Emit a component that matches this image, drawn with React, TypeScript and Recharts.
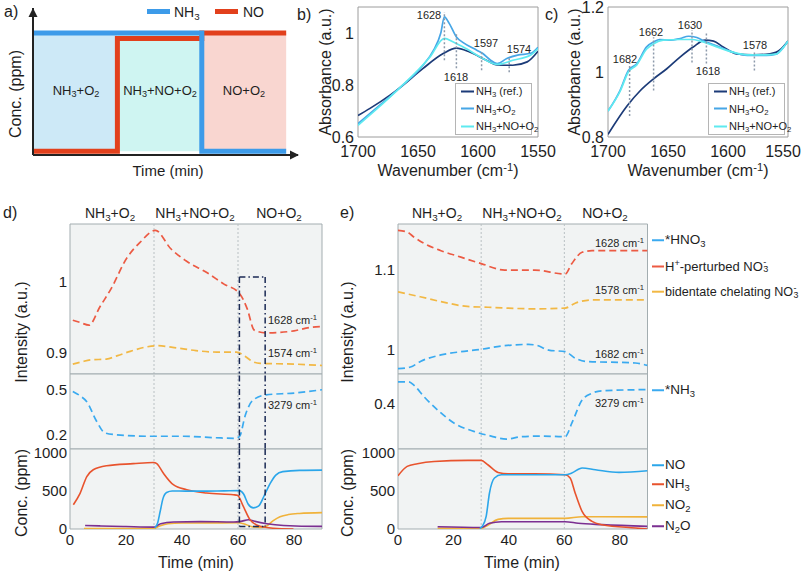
import React from 'react';
import { LineChart, Line, XAxis, YAxis, ReferenceLine, ReferenceArea, ReferenceDot, CartesianGrid } from 'recharts';

const FONT = '"Liberation Sans", Arial, Helvetica, sans-serif';
const INK = '#1e1e1e';

type P = [number, number];
const pts = (a: P[]) => a.map(([x, y]) => ({ x, y }));

// ---------- panel a ----------
const aPhaseEdges = [0, 1, 2, 3];
const aPhaseFills = ['#cde9f7', '#cff5f2', '#f9d6d0'];
const aNH3: P[] = [[0, 1], [2, 1], [2, 0.03], [3, 0.03]];
const aNO: P[] = [[0, 0.03], [1, 0.03], [1, 0.955], [2, 0.955], [2, 1], [3, 1]];
const aXMax = 3.14;
const aYMax = 1.205;

// ---------- panels b, c ----------
const wnTicks = [1700, 1650, 1600, 1550];
const bTicksY = [0.6, 0.8, 1];
const cTicksY = [0.8, 1, 1.2];
const bRef: P[] = [[1700, 0.683], [1690, 0.71], [1673, 0.762], [1665, 0.79], [1646, 0.863], [1629, 0.921], [1618, 0.942], [1607, 0.927], [1593, 0.895], [1584, 0.877], [1571, 0.876], [1559, 0.889], [1550, 0.93]];
const bO2: P[] = [[1700, 0.651], [1685, 0.71], [1665, 0.79], [1646, 0.875], [1637, 0.934], [1631, 1.0], [1628, 1.062], [1624, 1.037], [1618, 0.985], [1612, 0.962], [1601, 0.934], [1596, 0.921], [1590, 0.897], [1584, 0.882], [1576, 0.902], [1567, 0.915], [1556, 0.922], [1550, 0.945]];
const bNO: P[] = [[1700, 0.645], [1685, 0.705], [1665, 0.79], [1640, 0.908], [1628, 0.979], [1621, 0.966], [1610, 0.94], [1596, 0.902], [1584, 0.879], [1571, 0.895], [1556, 0.915], [1550, 0.94]];
const bMarks = [{ w: 1628, y1: 0.895, y2: 1.081 }, { w: 1618, y1: 0.864, y2: 1.003 }, { w: 1597, y1: 0.857, y2: 0.934 }, { w: 1574, y1: 0.849, y2: 0.903 }];
const cRef: P[] = [[1700, 0.808], [1684, 0.896], [1673, 0.943], [1662, 0.979], [1651, 1.01], [1640, 1.046], [1629, 1.077], [1619, 1.098], [1612, 1.095], [1604, 1.077], [1593, 1.056], [1579, 1.053], [1565, 1.056], [1556, 1.07], [1550, 1.095]];
const cO2: P[] = [[1700, 0.88], [1690, 0.943], [1683, 1.005], [1676, 1.025], [1668, 1.077], [1662, 1.092], [1657, 1.1], [1648, 1.098], [1640, 1.103], [1633, 1.11], [1626, 1.106], [1618, 1.092], [1607, 1.077], [1596, 1.061], [1584, 1.051], [1568, 1.051], [1560, 1.055], [1554, 1.075], [1550, 1.095]];
const cNO: P[] = [[1700, 0.88], [1690, 0.94], [1683, 1.0], [1676, 1.022], [1668, 1.07], [1662, 1.087], [1654, 1.098], [1640, 1.1], [1630, 1.1], [1623, 1.095], [1612, 1.081], [1596, 1.061], [1584, 1.053], [1568, 1.053], [1560, 1.055], [1554, 1.075], [1550, 1.095]];
const cMarks = [{ w: 1682, y1: 0.865, y2: 1.029 }, { w: 1662, y1: 0.943, y2: 1.107 }, { w: 1630, y1: 1.029, y2: 1.129 }, { w: 1618, y1: 1.026, y2: 1.122 }, { w: 1578, y1: 1.005, y2: 1.06 }];

// ---------- panels d, e ----------
const timeTicks = [0, 20, 40, 60, 80];
const phaseSwitch = [30, 60];
const dRed1628: P[] = [[1, 0.946], [3.5, 0.943], [6.8, 0.939], [10.7, 0.965], [14.6, 0.99], [20.3, 1.034], [25, 1.056], [30.5, 1.073], [36, 1.047], [41.4, 1.03], [49, 1.013], [55, 0.997], [60.5, 0.984], [63.3, 0.962], [65.8, 0.932], [70, 0.928], [80, 0.931], [86, 0.936], [90, 0.937]];
const dYel1574: P[] = [[1, 0.884], [4, 0.887], [7.5, 0.89], [13, 0.891], [17, 0.896], [21.5, 0.902], [27, 0.908], [31, 0.91], [38, 0.907], [45, 0.903], [52.5, 0.901], [59.5, 0.901], [62.5, 0.895], [65.5, 0.887], [68, 0.885], [80, 0.884], [90, 0.882]];
const dBlu3279: P[] = [[1, 0.489], [3.6, 0.46], [6, 0.42], [9.5, 0.29], [12.5, 0.212], [16.5, 0.2], [28.5, 0.19], [40.5, 0.19], [52, 0.18], [59.3, 0.176], [60.6, 0.19], [62.6, 0.33], [65.3, 0.43], [70, 0.466], [80, 0.478], [90, 0.5]];
const dNH3: P[] = [[1.2, 320], [3.6, 470], [6, 690], [8.3, 780], [13.1, 833], [22.6, 860], [29.8, 876], [31, 860], [33.3, 737], [36.9, 583], [41.7, 517], [48.8, 473], [58.3, 451], [59.8, 445], [61.9, 297], [64.3, 122], [67.9, 35], [72.6, 10], [79.8, 0]];
const dNO: P[] = [[30.3, 15], [31.3, 80], [32.2, 230], [33.2, 400], [34.5, 480], [36.5, 500], [46, 498], [55, 502], [60.5, 505], [62, 460], [63.6, 330], [65.5, 278], [67.3, 300], [69.5, 450], [71.5, 600], [73.5, 710], [76, 755], [82, 772], [90, 775]];
const dNO2: P[] = [[5, 5], [30, 8], [32, 40], [35, 70], [40, 78], [50, 80], [60, 82], [62, 70], [65, 30], [68, 20], [70, 35], [72.6, 110], [75, 160], [78, 190], [82, 205], [90, 215]];
const dN2O: P[] = [[5.4, 47], [11, 40], [20, 32], [30, 25], [31, 40], [32.4, 70], [37, 92], [46.6, 97], [58.5, 92], [61, 100], [63.8, 122], [65.6, 105], [70.3, 70], [76.3, 47], [89, 35], [90, 35]];
const dBoxT = [60.5, 69.7];
const dBoxTop = 1.007;
const dBoxBottom = 34;

const eRed1628: P[] = [[0, 1.148], [3.3, 1.146], [5.7, 1.14], [9.4, 1.132], [15.5, 1.123], [22.7, 1.115], [30, 1.107], [38.5, 1.099], [49.4, 1.099], [60.3, 1.094], [62.7, 1.107], [66.4, 1.121], [70, 1.123], [90, 1.123]];
const eYel1578: P[] = [[0, 1.072], [8, 1.066], [15.5, 1.06], [25, 1.054], [32.5, 1.053], [49.4, 1.051], [60.3, 1.052], [63.9, 1.058], [70, 1.062], [90, 1.062]];
const eBlu1682: P[] = [[0, 0.977], [4.5, 0.979], [8.1, 0.986], [15.5, 0.994], [22.7, 0.998], [30, 1.001], [37.3, 1.005], [47, 1.007], [50, 1.006], [54.3, 1.0], [60.3, 0.998], [63.9, 0.99], [67.6, 0.986], [85.6, 0.984], [90, 0.981]];
const eBlu3279: P[] = [[0, 0.474], [3.9, 0.474], [5.7, 0.463], [9.4, 0.424], [14.3, 0.38], [20.3, 0.336], [27.6, 0.308], [33.6, 0.293], [39.1, 0.283], [44.5, 0.291], [51.8, 0.293], [60.3, 0.291], [62.7, 0.336], [66.4, 0.413], [70, 0.436], [73.6, 0.444], [90, 0.448]];
const eNH3: P[] = [[0, 700], [3.3, 824], [7, 859], [13, 889], [25.2, 903], [30, 903], [32.4, 846], [36.1, 745], [39.7, 728], [49.4, 728], [60.3, 714], [62.1, 671], [63.9, 474], [66.4, 232], [70, 100], [73.6, 57], [85.7, 13], [90, 0]];
const eNO: P[] = [[29.5, 5], [30.5, 40], [31.8, 166], [33, 474], [34.8, 671], [37.3, 714], [60.3, 714], [62.7, 737], [66.4, 803], [71.2, 780], [79.7, 745], [90, 767]];
const eNO2: P[] = [[14.3, 9], [30, 9], [32.4, 50], [36.1, 127], [39.7, 140], [60.3, 140], [66.4, 162], [73.6, 162], [90, 160]];
const eN2O: P[] = [[14.3, 30], [30, 20], [33, 75], [37.3, 96], [60.3, 96], [65, 75], [73.6, 57], [90, 35]];

const C = {
  a1: '#3d9be9', a2: '#e2401c',
  ref: '#1c3b78', o2: '#47a6e6', no: '#5eeaf0',
  dRed: '#ec5a43', dYel: '#f2b844', dBlu: '#3aaaf0',
  NO: '#2ba6ea', NH3: '#e8532d', NO2: '#f0b23a', N2O: '#7b2f91',
};

// ---------- text helpers ----------
const Sub = ({ c }: { c: React.ReactNode }) => (
  <sub style={{ fontSize: '0.7em', verticalAlign: '-0.3em', lineHeight: 0 }}>{c}</sub>
);
const Sup = ({ c }: { c: React.ReactNode }) => (
  <sup style={{ fontSize: '0.7em', verticalAlign: '0.45em', lineHeight: 0 }}>{c}</sup>
);
const SubSup = ({ sub, sup }: { sub: string; sup: string }) => (
  <span style={{ display: 'inline-block', position: 'relative', width: '0.42em', height: '1em', verticalAlign: 'top' }}>
    <span style={{ position: 'absolute', left: '0.05em', top: '-0.2em', fontSize: '0.7em', lineHeight: 1 }}>{sup}</span>
    <span style={{ position: 'absolute', left: '0.05em', top: '0.55em', fontSize: '0.7em', lineHeight: 1 }}>{sub}</span>
  </span>
);

function T({ x, y, size = 15, anchor = 'middle', rot = false, children, color = INK }: any) {
  const tx = anchor === 'middle' ? '-50%' : anchor === 'end' ? '-100%' : '0';
  return (
    <div style={{
      position: 'absolute', left: x, top: y, fontSize: size, lineHeight: 1, whiteSpace: 'nowrap', color,
      transform: `translate(${rot ? '-50%' : tx},-50%)${rot ? ' rotate(-90deg)' : ''}`,
    }}>{children}</div>
  );
}

const NH3 = () => <>NH<Sub c="3" /></>;
const O2 = () => <>O<Sub c="2" /></>;

// ---------- panel a ----------
const arrowRight = (p: any) => (
  <polygon points={`${p.cx + 1},${p.cy} ${p.cx - 8},${p.cy - 4.5} ${p.cx - 8},${p.cy + 4.5}`} fill="#222" />
);
const arrowUp = (p: any) => (
  <polygon points={`${p.cx},${p.cy} ${p.cx - 4.5},${p.cy + 9} ${p.cx + 4.5},${p.cy + 9}`} fill="#222" />
);

function PanelA() {
  return (
    <div style={{ position: 'absolute', left: 27, top: 8, width: 273, height: 153 }}>
      <LineChart width={273} height={153} margin={{ top: 0, right: 2, bottom: 6, left: 6 }}>
        <XAxis type="number" dataKey="x" domain={[0, aXMax]} hide allowDataOverflow />
        <YAxis type="number" domain={[0, aYMax]} hide allowDataOverflow />
        {aPhaseFills.map((f, i) => (
          <ReferenceArea key={i} x1={aPhaseEdges[i]} x2={aPhaseEdges[i + 1]} y1={0.03} y2={1} fill={f} fillOpacity={1} stroke="none" />
        ))}
        <Line data={pts(aNO)} dataKey="y" type="linear" stroke={C.a2} strokeWidth={5} dot={false} isAnimationActive={false} />
        <Line data={pts(aNH3)} dataKey="y" type="linear" stroke={C.a1} strokeWidth={5} dot={false} isAnimationActive={false} />
        <ReferenceLine segment={[{ x: 0, y: 0 }, { x: aXMax, y: 0 }]} stroke="#222" strokeWidth={2} />
        <ReferenceLine segment={[{ x: 0, y: 0 }, { x: 0, y: aYMax }]} stroke="#222" strokeWidth={2} />
        <ReferenceDot x={aXMax} y={0} r={1} shape={arrowRight} />
        <ReferenceDot x={0} y={aYMax} r={1} shape={arrowUp} />
      </LineChart>
    </div>
  );
}

// ---------- panels b, c ----------
const makeWnTick = (edgeShift: number) => (p: any) => {
  const v = p.payload?.value;
  const x = v === 1550 ? p.x + edgeShift : p.x;
  return (
    <text x={x} y={p.y} dy="0.71em" textAnchor="middle" fontSize={16} fill={INK} fontFamily={FONT}>{v}</text>
  );
};

function Spectrum({ left, lo, hi, ticksY, sRef, sO2, sNO, marks, edgeShift = 0 }: any) {
  const yw = 40, pw = 180, ph = 130, xh = 28, mt = 7, mr = 24;
  const W = yw + pw + mr, H = mt + ph + xh;
  const tick = { fontSize: 16, fill: INK, fontFamily: FONT };
  return (
    <div style={{ position: 'absolute', left: left - yw, top: 0, width: W, height: H }}>
      <LineChart width={W} height={H} margin={{ top: mt, right: mr, bottom: 0, left: 0 }}>
        <XAxis type="number" dataKey="x" domain={[1550, 1700]} reversed ticks={wnTicks} interval={0} allowDataOverflow
          tickLine={false} axisLine={false} tickSize={0} tickMargin={9} height={xh} tick={makeWnTick(edgeShift)} />
        <YAxis type="number" domain={[lo, hi]} ticks={ticksY} interval={0} allowDataOverflow width={yw}
          tickLine={false} axisLine={false} tickSize={0} tickMargin={4} tick={tick} />
        <Line data={pts(sRef)} dataKey="y" type="monotone" stroke={C.ref} strokeWidth={1.7} dot={false} isAnimationActive={false} />
        <Line data={pts(sO2)} dataKey="y" type="monotone" stroke={C.o2} strokeWidth={1.7} dot={false} isAnimationActive={false} />
        <Line data={pts(sNO)} dataKey="y" type="monotone" stroke={C.no} strokeWidth={1.7} dot={false} isAnimationActive={false} />
        {marks.map((m: any) => (
          <ReferenceLine key={m.w} segment={[{ x: m.w, y: m.y1 }, { x: m.w, y: m.y2 }]} stroke="#8d9aab" strokeDasharray="2 2" strokeWidth={1.5} />
        ))}
        <ReferenceArea x1={1550} x2={1700} y1={lo} y2={hi} fill="none" stroke="#9c9c9c" strokeWidth={1} />
      </LineChart>
    </div>
  );
}

function SpecLegend({ left }: { left: number }) {
  const rows = [
    { c: C.ref, t: <><NH3 /> (ref.)</> },
    { c: C.o2, t: <><NH3 />+<O2 /></> },
    { c: C.no, t: <><NH3 />+NO+<O2 /></> },
  ];
  return (
    <div style={{ position: 'absolute', left, top: 83, width: 77, height: 52, border: '1px solid #b5b5b5', background: '#fff', boxSizing: 'border-box' }}>
      {rows.map((r, i) => (
        <div key={i} style={{ position: 'absolute', left: 5, top: 7 + i * 17.5, display: 'flex', alignItems: 'center', fontSize: 11, lineHeight: 1, whiteSpace: 'nowrap', transform: 'translateY(-50%)' }}>
          <span style={{ display: 'inline-block', width: 13, height: 2, background: r.c, marginRight: 2 }} />
          <span>{r.t}</span>
        </div>
      ))}
    </div>
  );
}

// ---------- panels d, e ----------
function Section({ left, top, w, h, yw, lo, hi, ticks, xAxis, children }: any) {
  const xh = xAxis ? 30 : 0;
  const mt = 8;
  const W = yw + w + 1, H = mt + h + xh;
  const tick = { fontSize: 15, fill: INK, fontFamily: FONT };
  return (
    <div style={{ position: 'absolute', left: left - yw, top: top - mt, width: W, height: H }}>
      <LineChart width={W} height={H} margin={{ top: mt, right: 1, bottom: 0, left: 0 }}>
        <CartesianGrid horizontal={false} vertical={false} fill="#f1f3f3" />
        <XAxis type="number" dataKey="x" domain={[0, 90]} allowDataOverflow hide={!xAxis} ticks={timeTicks} interval={0}
          tickLine={false} axisLine={false} tickSize={0} tickMargin={5} height={xh} tick={tick} />
        <YAxis type="number" domain={[lo, hi]} ticks={ticks} interval={0} allowDataOverflow width={yw}
          tickLine={false} axisLine={false} tickSize={0} tickMargin={3} tick={tick} />
        {phaseSwitch.map((t) => (
          <ReferenceLine key={t} x={t} stroke="#b9c0c3" strokeDasharray="2 2" strokeWidth={1} />
        ))}
        {children}
        <ReferenceArea x1={0} x2={90} y1={lo} y2={hi} fill="none" stroke="#a3adb0" strokeWidth={1} />
      </LineChart>
    </div>
  );
}

const dash = (data: P[], color: string) => (
  <Line data={pts(data)} dataKey="y" type="monotone" stroke={color} strokeWidth={1.7} strokeDasharray="7 4" dot={false} isAnimationActive={false} />
);
const solid = (data: P[], color: string) => (
  <Line data={pts(data)} dataKey="y" type="monotone" stroke={color} strokeWidth={1.6} dot={false} isAnimationActive={false} />
);
const BOX = { stroke: '#1b2a55', strokeWidth: 1.5, strokeDasharray: '6 3 1.5 3' };

function LegendRow({ x, y, color, dashed, children, size = 13.5 }: any) {
  return (
    <div style={{ position: 'absolute', left: x, top: y, display: 'flex', alignItems: 'center', transform: 'translateY(-50%)', fontSize: size, lineHeight: 1, whiteSpace: 'nowrap' }}>
      <span style={{ display: 'inline-block', width: 12, height: 0, borderTop: `2px ${dashed ? 'dashed' : 'solid'} ${color}`, marginRight: 1 }} />
      <span>{children}</span>
    </div>
  );
}

export default function App() {
  const dL = 70, dW = 252, eL = 397.5, eW = 249.5;
  return (
    <div style={{ position: 'absolute', left: 0, top: 0, width: 804, height: 574, background: '#fff', fontFamily: FONT, color: INK, overflow: 'hidden' }}>
      {/* ---------------- a ---------------- */}
      <PanelA />
      <T x={4} y={12} size={16} anchor="start">a)</T>
      <T x={16} y={94} size={16} rot>Conc. (ppm)</T>
      <T x={168} y={170} size={15}>Time (min)</T>
      <T x={76} y={90} size={13}><NH3 />+<O2 /></T>
      <T x={160} y={90} size={13}><NH3 />+NO+<O2 /></T>
      <T x={244} y={90} size={13}>NO+<O2 /></T>
      <div style={{ position: 'absolute', left: 147, top: 9, width: 23, height: 5, background: C.a1 }} />
      <T x={174} y={12} size={14} anchor="start"><NH3 /></T>
      <div style={{ position: 'absolute', left: 215, top: 9, width: 23, height: 5, background: C.a2 }} />
      <T x={243} y={12} size={14} anchor="start">NO</T>

      {/* ---------------- b ---------------- */}
      <Spectrum left={358} lo={0.6} hi={1.1} ticksY={bTicksY} sRef={bRef} sO2={bO2} sNO={bNO} marks={bMarks} />
      <SpecLegend left={455} />
      <T x={297} y={15} size={16} anchor="start">b)</T>
      <T x={326} y={72} size={16} rot>Absorbance (a.u.)</T>
      <T x={448} y={171} size={16}>Wavenumber (cm<Sup c="-1" />)</T>
      <T x={429} y={15} size={11}>1628</T>
      <T x={456} y={77} size={11}>1618</T>
      <T x={486} y={43} size={11}>1597</T>
      <T x={519} y={49} size={11}>1574</T>

      {/* ---------------- c ---------------- */}
      <Spectrum left={608} lo={0.8} hi={1.2} ticksY={cTicksY} sRef={cRef} sO2={cO2} sNO={cNO} marks={cMarks} edgeShift={-5} />
      <SpecLegend left={708} />
      <T x={545} y={15} size={16} anchor="start">c)</T>
      <T x={575} y={72} size={16} rot>Absorbance (a.u.)</T>
      <T x={698} y={171} size={16}>Wavenumber (cm<Sup c="-1" />)</T>
      <T x={625} y={59} size={11}>1682</T>
      <T x={651} y={32} size={11}>1662</T>
      <T x={690} y={25} size={11}>1630</T>
      <T x={708} y={71} size={11}>1618</T>
      <T x={755} y={45} size={11}>1578</T>

      {/* ---------------- d ---------------- */}
      <Section left={dL} top={224} w={dW} h={150} yw={50} lo={0.87} hi={1.082} ticks={[0.9, 1]}>
        {dash(dYel1574, C.dYel)}
        {dash(dRed1628, C.dRed)}
        <ReferenceLine segment={[{ x: dBoxT[0], y: dBoxTop }, { x: dBoxT[1], y: dBoxTop }]} {...BOX} />
        <ReferenceLine segment={[{ x: dBoxT[0], y: dBoxTop }, { x: dBoxT[0], y: 0.87 }]} {...BOX} />
        <ReferenceLine segment={[{ x: dBoxT[1], y: dBoxTop }, { x: dBoxT[1], y: 0.87 }]} {...BOX} />
      </Section>
      <Section left={dL} top={374} w={dW} h={75} yw={50} lo={0.105} hi={0.605} ticks={[0.2, 0.5]}>
        {dash(dBlu3279, C.dBlu)}
        <ReferenceLine x={dBoxT[0]} {...BOX} />
        <ReferenceLine x={dBoxT[1]} {...BOX} />
      </Section>
      <Section left={dL} top={449} w={dW} h={80} yw={50} lo={0} hi={1053} ticks={[0, 500, 1000]} xAxis>
        {solid(dNO2, C.NO2)}
        {solid(dN2O, C.N2O)}
        {solid(dNH3, C.NH3)}
        {solid(dNO, C.NO)}
        <ReferenceLine segment={[{ x: dBoxT[0], y: 1053 }, { x: dBoxT[0], y: dBoxBottom }]} {...BOX} />
        <ReferenceLine segment={[{ x: dBoxT[1], y: 1053 }, { x: dBoxT[1], y: dBoxBottom }]} {...BOX} />
        <ReferenceLine segment={[{ x: dBoxT[0], y: dBoxBottom }, { x: dBoxT[1], y: dBoxBottom }]} {...BOX} />
      </Section>
      <T x={3} y={213} size={16} anchor="start">d)</T>
      <T x={110} y={213} size={14}><NH3 />+<O2 /></T>
      <T x={195} y={213} size={14}><NH3 />+NO+<O2 /></T>
      <T x={279} y={213} size={14}>NO+<O2 /></T>
      <T x={22} y={332} size={16} rot>Intensity (a.u.)</T>
      <T x={22} y={493} size={16} rot>Conc. (ppm)</T>
      <T x={196} y={563} size={16}>Time (min)</T>
      <T x={268} y={320} size={11} anchor="start">1628 cm<Sup c="-1" /></T>
      <T x={268} y={353} size={11} anchor="start">1574 cm<Sup c="-1" /></T>
      <T x={268} y={405} size={11} anchor="start">3279 cm<Sup c="-1" /></T>

      {/* ---------------- e ---------------- */}
      <Section left={eL} top={224} w={eW} h={150} yw={50} lo={0.9704} hi={1.156} ticks={[1, 1.1]}>
        {dash(eBlu1682, C.dBlu)}
        {dash(eYel1578, C.dYel)}
        {dash(eRed1628, C.dRed)}
      </Section>
      <Section left={eL} top={374} w={eW} h={75} yw={50} lo={0.25} hi={0.5} ticks={[0.4]}>
        {dash(eBlu3279, C.dBlu)}
      </Section>
      <Section left={eL} top={449} w={eW} h={80} yw={50} lo={0} hi={1053} ticks={[0, 500, 1000]} xAxis>
        {solid(eNO2, C.NO2)}
        {solid(eN2O, C.N2O)}
        {solid(eNH3, C.NH3)}
        {solid(eNO, C.NO)}
      </Section>
      <T x={340} y={213} size={16} anchor="start">e)</T>
      <T x={437} y={213} size={14}><NH3 />+<O2 /></T>
      <T x={522} y={213} size={14}><NH3 />+NO+<O2 /></T>
      <T x={605} y={213} size={14}>NO+<O2 /></T>
      <T x={348} y={332} size={16} rot>Intensity (a.u.)</T>
      <T x={348} y={493} size={16} rot>Conc. (ppm)</T>
      <T x={522} y={563} size={16}>Time (min)</T>
      <T x={595} y={243} size={11} anchor="start">1628 cm<Sup c="-1" /></T>
      <T x={595} y={290} size={11} anchor="start">1578 cm<Sup c="-1" /></T>
      <T x={595} y={354} size={11} anchor="start">1682 cm<Sup c="-1" /></T>
      <T x={595} y={403} size={11} anchor="start">3279 cm<Sup c="-1" /></T>

      <LegendRow x={652} y={240} color={C.dBlu} dashed>*HNO<Sub c="3" /></LegendRow>
      <LegendRow x={652} y={266} color={C.dRed} dashed size={13}>H<Sup c="+" />-perturbed NO<SubSup sub="3" sup="-" /></LegendRow>
      <LegendRow x={652} y={292} color={C.dYel} dashed size={12.6}>bidentate chelating NO<SubSup sub="3" sup="-" /></LegendRow>
      <LegendRow x={652} y={390} color={C.dBlu} dashed>*NH<Sub c="3" /></LegendRow>
      <LegendRow x={652} y={465} color={C.NO}>NO</LegendRow>
      <LegendRow x={652} y={484} color={C.NH3}>NH<Sub c="3" /></LegendRow>
      <LegendRow x={652} y={505} color={C.NO2}>NO<Sub c="2" /></LegendRow>
      <LegendRow x={652} y={526} color={C.N2O}>N<Sub c="2" />O</LegendRow>
    </div>
  );
}
